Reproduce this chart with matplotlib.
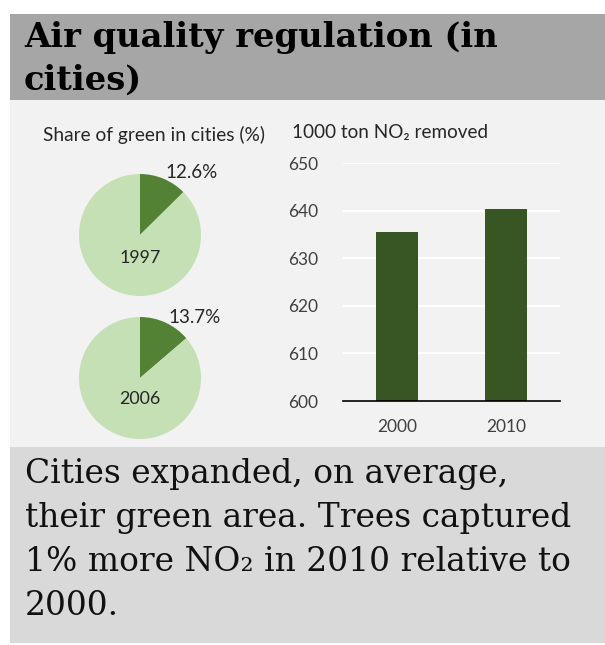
import matplotlib
matplotlib.use("Agg")
import matplotlib.pyplot as plt
from matplotlib.patches import Rectangle

W, H = 605, 645
DPI = 100

# ---- data ----
pie_years = ["1997", "2006"]
green_share = [12.6, 13.7]
bar_years = ["2000", "2010"]
no2_removed = [635.5, 640.3]
y_ticks = [600, 610, 620, 630, 640, 650]

title_lines = ["Air quality regulation (in", "cities)"]
body_lines = ["Cities expanded, on average,", "their green area. Trees captured",
              "1% more NO\u2082 in 2010 relative to", "2000."]

DARK = "#548235"
LIGHT = "#c5e0b4"
BAR = "#375623"
SANS = ["Lato", "DejaVu Sans"]
SERIF = ["DejaVu Serif"]

fig = plt.figure(figsize=(W / DPI, H / DPI), dpi=DPI, facecolor="white")


def fx(x):
    return x / W


def fy(y):
    return 1 - y / H


def rect_px(x0, y0, x1, y1, color):
    fig.patches.append(Rectangle((fx(x0), fy(y1)), (x1 - x0) / W, (y1 - y0) / H,
                                 transform=fig.transFigure, facecolor=color,
                                 edgecolor="none", zorder=-10))


def axes_px(x0, y0, x1, y1):
    a = fig.add_axes([fx(x0), fy(y1), (x1 - x0) / W, (y1 - y0) / H])
    a.set_zorder(2)
    return a


# background panels
rect_px(10, 14, 605, 100, "#a6a6a6")
rect_px(10, 100, 605, 447, "#f2f2f2")
rect_px(10, 447, 605, 643, "#d9d9d9")

# header
title_baselines = [46.5, 90]
for line, yb in zip(title_lines, title_baselines):
    fig.text(fx(24), fy(yb), line, family=SERIF, weight="bold",
             fontsize=24.3, color="black", va="baseline", ha="left")

# body
for i, line in enumerate(body_lines):
    fig.text(fx(25), fy(483 + i * 44), line, family=SERIF, fontsize=23.7,
             color="#111111", va="baseline", ha="left")

# pie charts
fig.text(fx(154), fy(135), "Share of green in cities (%)", family=SANS,
         fontsize=13.8, color="#262626", ha="center", va="center")

pie_centers = [(140, 235), (140, 378)]
label_offsets = [(0.84, 1.02), (0.90, 1.00)]
year_offsets = [-0.38, -0.35]
R = 61
for (cx, cy), yr, share, (lx, ly), yo in zip(pie_centers, pie_years, green_share,
                                             label_offsets, year_offsets):
    ax = axes_px(cx - R, cy - R, cx + R, cy + R)
    ax.pie([share, 100 - share], colors=[DARK, LIGHT], startangle=90,
           counterclock=False, radius=1.0,
           wedgeprops=dict(linewidth=0))
    ax.set_xlim(-1, 1)
    ax.set_ylim(-1, 1)
    ax.set_aspect("equal")
    ax.axis("off")
    ax.text(lx, ly, f"{share:.1f}%", family=SANS, fontsize=13.5,
            color="#262626", ha="center", va="center")
    ax.text(0, yo, yr, family=SANS, fontsize=12.9, color="#262626",
            ha="center", va="center")

# bar chart
fig.text(fx(292), fy(132), "1000 ton NO\u2082 removed", family=SANS,
         fontsize=13.6, color="#262626", ha="left", va="center")
bx = axes_px(343, 163, 560, 401)
bx.set_facecolor("none")
xs = list(range(len(bar_years)))
bx.bar(xs, [v - y_ticks[0] for v in no2_removed], bottom=y_ticks[0],
       width=0.39, color=BAR, zorder=3)
bx.set_xlim(-0.5, len(bar_years) - 0.5)
bx.set_ylim(y_ticks[0], y_ticks[-1])
bx.set_yticks(y_ticks)
bx.set_xticks(xs)
bx.set_xticklabels(bar_years)
bx.yaxis.grid(True, color="white", linewidth=1.5, zorder=0)
bx.set_axisbelow(True)
for s in ["top", "right", "left"]:
    bx.spines[s].set_visible(False)
bx.spines["bottom"].set_color("black")
bx.spines["bottom"].set_linewidth(1.2)
bx.spines["bottom"].set_zorder(4)
bx.tick_params(axis="both", length=0, labelsize=12.5, labelcolor="#404040")
bx.tick_params(axis="y", pad=18)
bx.tick_params(axis="x", pad=13)
for lab in bx.get_xticklabels() + bx.get_yticklabels():
    lab.set_family(SANS)

fig.savefig("out.png", dpi=DPI, facecolor="white")
